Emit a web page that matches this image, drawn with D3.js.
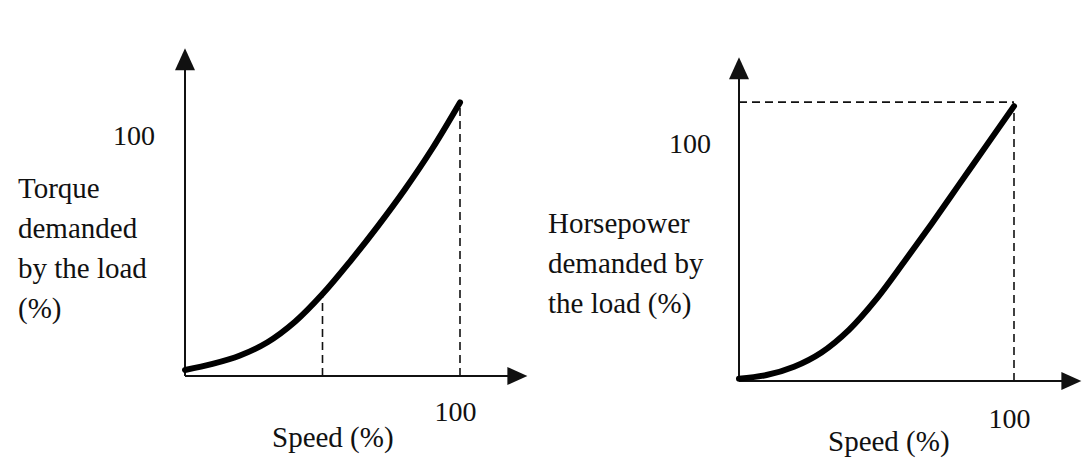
<!DOCTYPE html>
<html>
<head>
<meta charset="utf-8">
<script src="https://cdn.jsdelivr.net/npm/d3@7"></script>
<style>
  html, body { margin: 0; padding: 0; background: #fff; }
  svg { display: block; }
</style>
</head>
<body>
<svg id="chart" width="1091" height="472"></svg>
<script>
// ---- data ----
const speed = [0, 10, 20, 30, 40, 50, 60, 70, 80, 90, 100];
const torque = [2.5, 5, 8.5, 14, 22.5, 34, 47.5, 62, 77.5, 94.5, 113.5];
const horsepower = [1, 2.5, 6, 12, 21.5, 34.5, 50, 66, 82.5, 99, 115.5];
const xTickValues = [100];
const yTickValues = [100];
const torqueMarkerSpeeds = [50, 100];
const hpMarkerSpeeds = [100];
const torqueLabel = ["Torque", "demanded", "by the load", "(%)"];
const hpLabel = ["Horsepower", "demanded by", "the load (%)"];
const xLabel = "Speed (%)";

const FONT = "Liberation Serif";
const svg = d3.select("#chart");

function panel(cfg) {
  const g = svg.append("g");
  const x = d3.scaleLinear().domain([0, 100]).range([cfg.x0, cfg.x100]);
  const y = d3.scaleLinear().domain([0, 100]).range([cfg.y0, cfg.y100]);
  const xMax = 124.5, yMax = 136;

  // axes lines
  g.append("line").attr("x1", x(0)).attr("y1", y(0)).attr("x2", x(0)).attr("y2", y(yMax) + 18)
    .attr("stroke", "#111").attr("stroke-width", 2);
  g.append("line").attr("x1", x(0)).attr("y1", y(0)).attr("x2", x(xMax) - 16).attr("y2", y(0))
    .attr("stroke", "#111").attr("stroke-width", 2);
  // arrowheads
  const ty = y(yMax), tx = x(xMax);
  g.append("path").attr("d", `M${x(0)},${ty} L${x(0) - 10},${ty + 22} L${x(0) + 10},${ty + 22} Z`).attr("fill", "#111");
  g.append("path").attr("d", `M${tx},${y(0)} L${tx - 20},${y(0) - 9} L${tx - 20},${y(0) + 9} Z`).attr("fill", "#111");

  // dashed guides
  cfg.vDash.forEach(s => {
    const i = speed.indexOf(s);
    g.append("line").attr("x1", x(s)).attr("x2", x(s)).attr("y1", y(0)).attr("y2", y(cfg.values[i]))
      .attr("stroke", "#111").attr("stroke-width", 1.6).attr("stroke-dasharray", "8,5");
  });
  if (cfg.hDash) {
    const v = cfg.values[cfg.values.length - 1];
    g.append("line").attr("x1", x(0)).attr("x2", x(100)).attr("y1", y(v) - 4).attr("y2", y(v) - 4)
      .attr("stroke", "#111").attr("stroke-width", 1.6).attr("stroke-dasharray", "8,5");
  }

  // curve
  const line = d3.line().x((d, i) => x(speed[i])).y(d => y(d)).curve(d3.curveCatmullRom.alpha(0.5));
  g.append("path").attr("d", line(cfg.values)).attr("fill", "none").attr("stroke", "#000")
    .attr("stroke-width", 6).attr("stroke-linecap", "round");

  // tick labels via axes
  const ya = g.append("g").attr("transform", `translate(${x(0)},0)`)
    .call(d3.axisLeft(y).tickValues(yTickValues).tickSize(0).tickPadding(cfg.yPad).tickFormat(d3.format("d")));
  ya.select(".domain").remove();
  ya.attr("font-family", FONT).attr("font-size", 28);
  ya.selectAll("text").attr("font-size", 28).attr("font-family", FONT).attr("fill", "#111").attr("dy", "0.35em");

  const xa = g.append("g").attr("transform", `translate(${cfg.xTickShift},${y(0)})`)
    .call(d3.axisBottom(x).tickValues(xTickValues).tickSize(0).tickPadding(cfg.xPad).tickFormat(d3.format("d")));
  xa.select(".domain").remove();
  xa.attr("font-family", FONT).attr("font-size", 28);
  xa.selectAll("text").attr("font-size", 28).attr("font-family", FONT).attr("fill", "#111").attr("dy", "0.71em");

  // x label
  g.append("text").attr("x", cfg.xLabelX).attr("y", cfg.xLabelY).attr("font-size", 29)
    .attr("font-family", FONT).attr("fill", "#111").text(xLabel);
  // y label
  cfg.yLabel.forEach((t, i) => {
    g.append("text").attr("x", cfg.yLabelX).attr("y", cfg.yLabelY + i * 40).attr("font-size", 29)
      .attr("font-family", FONT).attr("fill", "#111").text(t);
  });
}

panel({ x0: 185, x100: 460, y0: 376, y100: 135, values: torque, vDash: torqueMarkerSpeeds, hDash: false,
  yPad: 30, xPad: 25, xTickShift: -5, xLabelX: 272, xLabelY: 447, yLabel: torqueLabel, yLabelX: 18, yLabelY: 198 });
panel({ x0: 739, x100: 1014, y0: 381, y100: 143, values: horsepower, vDash: hpMarkerSpeeds, hDash: true,
  yPad: 28, xPad: 27, xTickShift: -5, xLabelX: 828, xLabelY: 451, yLabel: hpLabel, yLabelX: 548, yLabelY: 233 });
</script>
</body>
</html>
